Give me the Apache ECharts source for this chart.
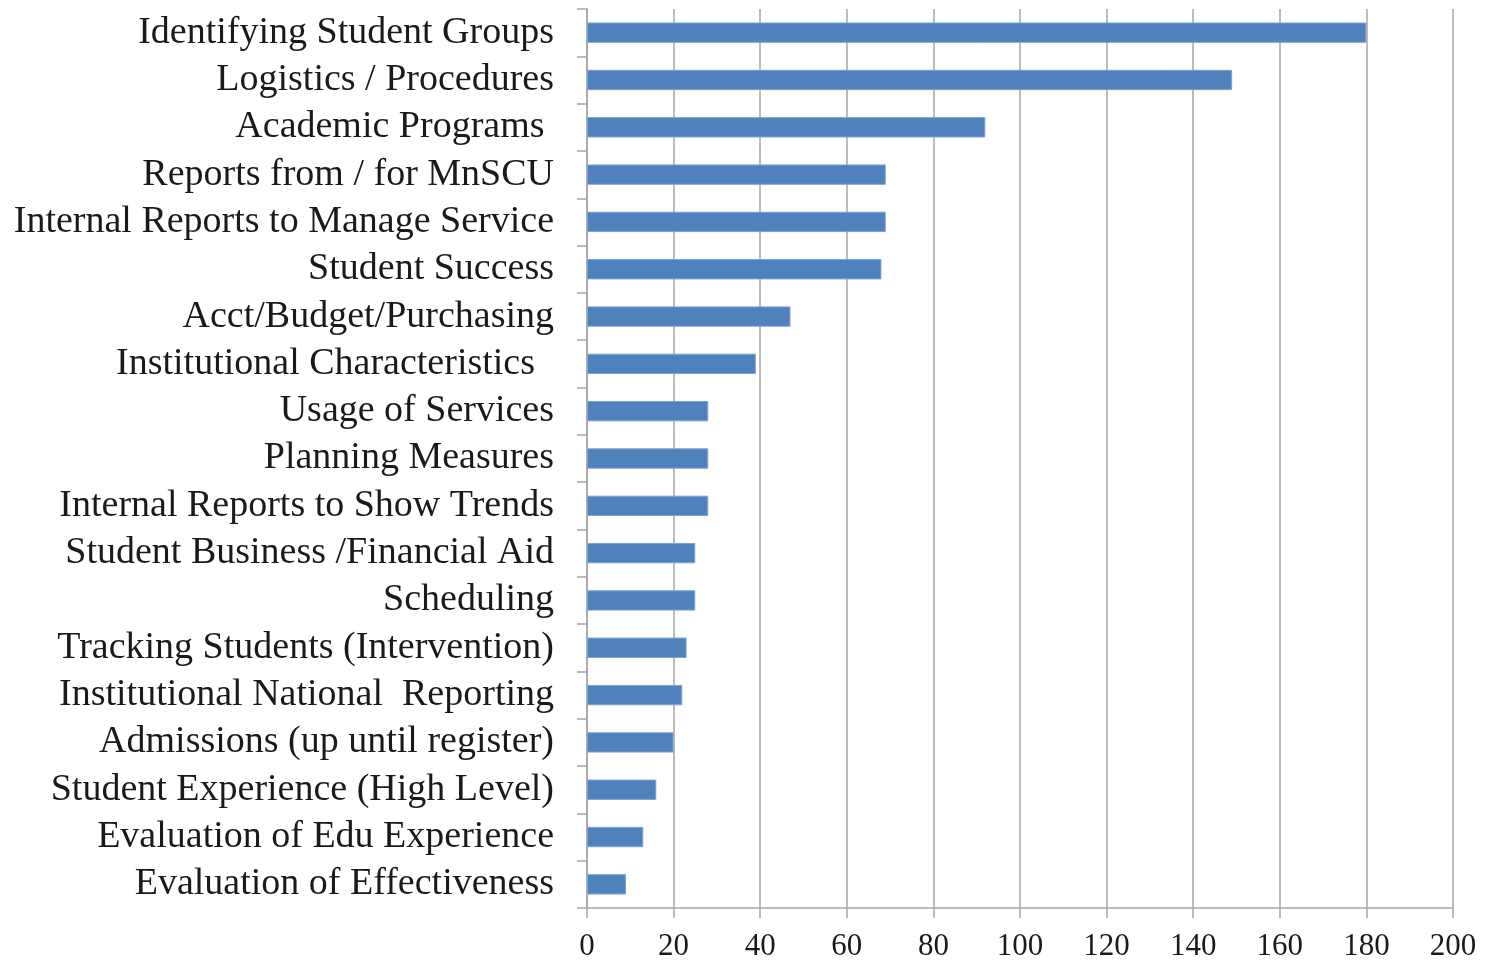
<!DOCTYPE html>
<html>
<head>
<meta charset="utf-8">
<script src="https://cdn.jsdelivr.net/npm/echarts@6/dist/echarts.min.js"></script>
<style>html,body{margin:0;padding:0;background:#fff}#c{width:1485px;height:962px}</style>
</head>
<body>
<div id="c"></div>
<script>
var categories = [
  "Identifying Student Groups",
  "Logistics / Procedures",
  "Academic Programs ",
  "Reports from / for MnSCU",
  "Internal Reports to Manage Service",
  "Student Success",
  "Acct/Budget/Purchasing",
  "Institutional Characteristics  ",
  "Usage of Services",
  "Planning Measures",
  "Internal Reports to Show Trends",
  "Student Business /Financial Aid",
  "Scheduling",
  "Tracking Students (Intervention)",
  "Institutional National  Reporting",
  "Admissions (up until register)",
  "Student Experience (High Level)",
  "Evaluation of Edu Experience",
  "Evaluation of Effectiveness"
];
var values = [180, 149, 92, 69, 69, 68, 47, 39, 28, 28, 28, 25, 25, 23, 22, 20, 16, 13, 9];
var xTicks = [0, 20, 40, 60, 80, 100, 120, 140, 160, 180, 200];

var chart = echarts.init(document.getElementById('c'), null, {renderer: 'canvas'});
chart.setOption({
  animation: false,
  backgroundColor: '#ffffff',
  grid: {left: 587, right: 32, top: 9, bottom: 53, containLabel: false},
  xAxis: {
    type: 'value',
    min: xTicks[0],
    max: xTicks[xTicks.length - 1],
    interval: xTicks[1] - xTicks[0],
    axisLine: {show: true, lineStyle: {color: '#a6a6a6', width: 1.5}},
    axisTick: {show: true, length: 10, lineStyle: {color: '#a6a6a6', width: 1.5}},
    splitLine: {show: true, lineStyle: {color: '#a6a6a6', width: 1.5}},
    axisLabel: {color: '#1a1a1a', fontFamily: 'Liberation Serif', fontSize: 31, margin: 23}
  },
  yAxis: {
    type: 'category',
    data: categories,
    inverse: true,
    axisLine: {show: true, lineStyle: {color: '#a6a6a6', width: 1.5}},
    axisTick: {show: true, length: 10, lineStyle: {color: '#a6a6a6', width: 1.5}},
    splitLine: {show: false},
    axisLabel: {color: '#1a1a1a', fontFamily: 'Liberation Serif', fontSize: 38, margin: 33, interval: 0, padding: [4, 0, 0, 0]}
  },
  series: [{
    type: 'bar',
    data: values,
    barWidth: '43%',
    itemStyle: {color: '#4f81bd', borderColor: '#7ea3d3', borderWidth: 1}
  }]
});
</script>
</body>
</html>
